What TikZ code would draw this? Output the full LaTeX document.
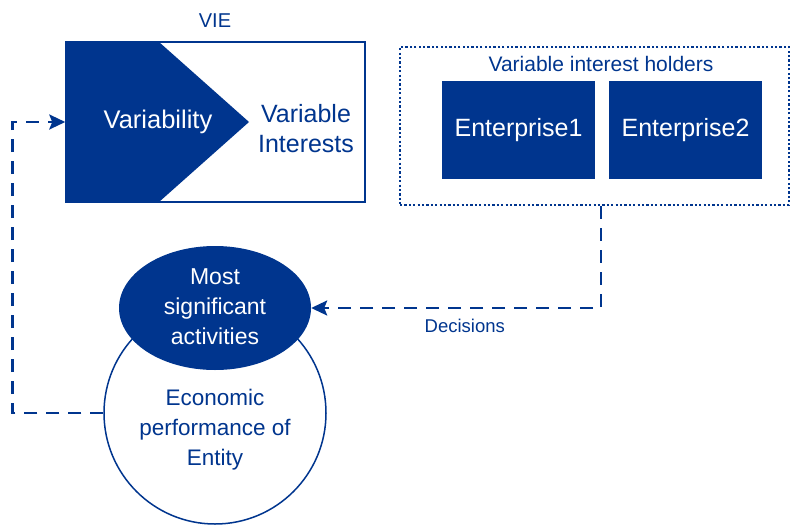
\documentclass[tikz,border=0pt]{standalone}
\usepackage{fontspec}
\setmainfont{Liberation Sans}
\usetikzlibrary{arrows.meta,shapes.geometric}
\definecolor{vieblue}{HTML}{00358E}

\newcommand{\fsz}[1]{\fontsize{#1}{30}\selectfont}

\tikzset{
  outlinebox/.style={draw=vieblue, line width=1.5pt, fill=white, inner sep=0pt},
  darkbox/.style={fill=vieblue, text=white, inner sep=0pt},
  bluetext/.style={text=vieblue, inner sep=0pt, align=center},
  flowline/.style={draw=vieblue, line width=2.5pt, dash pattern=on 13pt off 9pt, -{Stealth[length=16pt,width=15pt,inset=3pt]}},
}

\begin{document}
\begin{tikzpicture}[x=1pt, y=-1pt]
  \useasboundingbox (0,0) rectangle (791,525);

  % VIE box with the variability arrow
  \node[outlinebox, minimum width=299pt, minimum height=160pt] (vie) at (215.5,122) {};
  \fill[vieblue] (vie.north west) -- (159,42) -- (249,122) -- (159,202) -- (vie.south west) -- cycle;
  \node[bluetext, font=\fsz{20}] (vielabel) at (215,21) {VIE};
  \node[bluetext, text=white, font=\fsz{25.5}] (variab) at (158,122) {Variability};
  \node[bluetext, font=\fsz{25}] (varint) at (306,129) {Variable\\Interests};

  % holders
  \node[draw=vieblue, line width=2.2pt, dash pattern=on 2.2pt off 2.2pt, minimum width=389pt, minimum height=158pt] (vih) at (594.5,126) {};
  \node[bluetext, font=\fsz{21}] (vihlabel) at (601,64) {Variable interest holders};
  \node[darkbox, minimum width=153pt, minimum height=98pt, font=\fsz{25}] (ent1) at (518.5,130) {Enterprise1};
  \node[darkbox, minimum width=153pt, minimum height=98pt, font=\fsz{25}] (ent2) at (685.5,130) {Enterprise2};

  % entity
  \node[circle, outlinebox, minimum size=222pt] (entity) at (215,413) {};
  \node[bluetext, font=\fsz{22.5}] (econ) at (215,430) {Economic\\performance of\\Entity};
  \node[ellipse, darkbox, minimum width=192pt, minimum height=124pt] (msa) at (215,308) {};
  \node[bluetext, text=white, font=\fsz{23}] (msatext) at (215,307) {Most\\significant\\activities};

  % connectors
  \coordinate (dtop) at (601,206);
  \draw[flowline] (dtop) |- (msa.east) node[pos=0.735, below=10pt, bluetext, font=\fsz{18.5}] {Decisions};
  \draw[flowline] (entity.west) -- ++(-91,0) |- (vie.west);
\end{tikzpicture}
\end{document}
